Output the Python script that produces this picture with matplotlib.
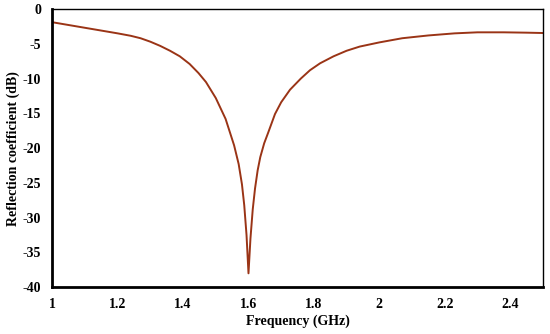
import matplotlib.pyplot as plt

# Reflection coefficient
freq_ghz = [1.00, 1.05, 1.10, 1.15, 1.20, 1.24, 1.27, 1.30, 1.33, 1.36,
            1.39, 1.42, 1.447, 1.47, 1.50, 1.53, 1.556, 1.57, 1.58, 1.587,
            1.594, 1.60, 1.606, 1.613, 1.62, 1.628, 1.636, 1.648, 1.66, 1.681,
            1.70, 1.727, 1.76, 1.788, 1.819, 1.86, 1.90, 1.94, 2.00, 2.07,
            2.15, 2.23, 2.30, 2.38, 2.45, 2.50]
s11_db = [-1.9, -2.3, -2.7, -3.1, -3.5, -3.85, -4.2, -4.7, -5.3, -6.0,
          -6.8, -7.9, -9.2, -10.5, -12.8, -15.8, -19.6, -22.3, -25.2, -28.2,
          -32.5, -38.0, -33.0, -28.8, -25.8, -23.2, -21.3, -19.3, -17.8, -15.1,
          -13.4, -11.6, -10.0, -8.8, -7.8, -6.8, -6.0, -5.4, -4.8, -4.2,
          -3.8, -3.5, -3.35, -3.35, -3.4, -3.45]

xticks = [1, 1.2, 1.4, 1.6, 1.8, 2, 2.2, 2.4]
xtick_labels = ['1', '1.2', '1.4', '1.6', '1.8', '2', '2.2', '2.4']
yticks = [0, -5, -10, -15, -20, -25, -30, -35, -40]

plt.rcParams['font.family'] = ['Liberation Serif', 'DejaVu Serif']
plt.rcParams['font.weight'] = 'bold'
plt.rcParams['axes.unicode_minus'] = False

fig, ax = plt.subplots(figsize=(5.5, 3.34), dpi=100)
fig.subplots_adjust(left=0.095, right=0.987, top=0.973, bottom=0.14)

ax.plot(freq_ghz, s11_db, color='#9a3416', linewidth=1.4)

ax.set_xlim(1, 2.5)
ax.set_ylim(-40, 0)
ax.set_xticks(xticks)
ax.set_xticklabels(xtick_labels)
ax.set_yticks(yticks)
ax.tick_params(length=0, labelsize=10, pad=8)
for lbl in ax.get_xticklabels() + ax.get_yticklabels():
    lbl.set_fontweight('bold')

ax.spines['left'].set_linewidth(2)
ax.spines['bottom'].set_linewidth(2)
ax.spines['top'].set_linewidth(1)
ax.spines['right'].set_linewidth(1)

ax.set_xlabel('Frequency (GHz)', fontsize=10, fontweight='bold', labelpad=2)
ax.set_ylabel('Reflection coefficient (dB)', fontsize=10, fontweight='bold', labelpad=2)

plt.savefig('out.png', dpi=100)
